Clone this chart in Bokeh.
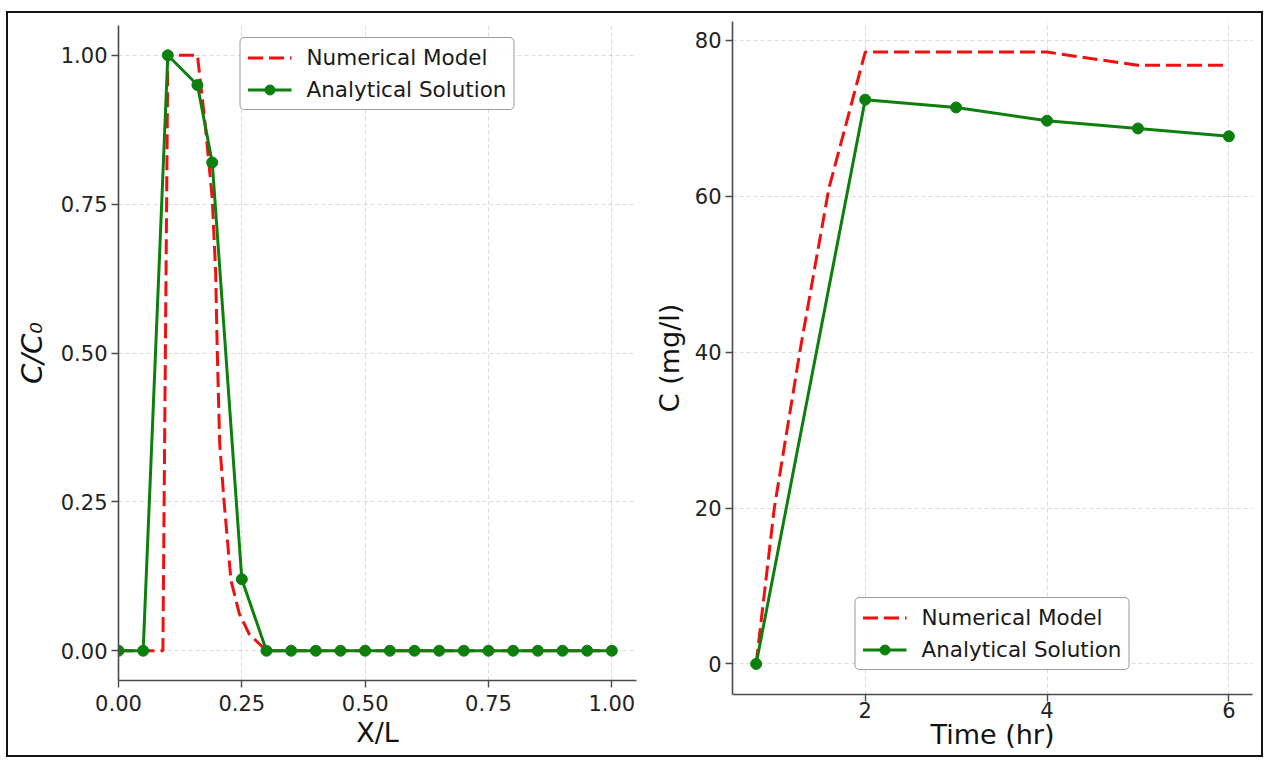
from bokeh.plotting import figure
from bokeh.layouts import row, column
from bokeh.models import Legend, LegendItem, FixedTicker, NumeralTickFormatter, Range1d
from bokeh.embed import file_html
from bokeh.resources import INLINE

# ---- concentration profile along the column (C/C0 vs X/L) ----
x_num = [0.0, 0.09, 0.10, 0.16, 0.175, 0.19, 0.197, 0.20, 0.205, 0.214,
         0.228, 0.245, 0.265, 0.29, 0.30, 1.00]
c_num = [0.0, 0.0, 1.0, 1.0, 0.89, 0.76, 0.635, 0.51, 0.35, 0.25,
         0.118, 0.062, 0.028, 0.008, 0.0, 0.0]

x_an = [0.00, 0.05, 0.10, 0.16, 0.19, 0.25, 0.30, 0.35, 0.40, 0.45, 0.50,
        0.55, 0.60, 0.65, 0.70, 0.75, 0.80, 0.85, 0.90, 0.95, 1.00]
c_an = [0.0, 0.0, 1.0, 0.95, 0.82, 0.12, 0.0, 0.0, 0.0, 0.0, 0.0,
        0.0, 0.0, 0.0, 0.0, 0.0, 0.0, 0.0, 0.0, 0.0, 0.0]

left_xticks = [0.0, 0.25, 0.5, 0.75, 1.0]
left_yticks = [0.0, 0.25, 0.5, 0.75, 1.0]

# ---- breakthrough curve (C vs time) ----
t_num = [0.8, 1.0, 1.28, 1.6, 2.0, 3.0, 4.0, 5.0, 6.0]
conc_num = [0.0, 20.0, 40.0, 61.0, 78.5, 78.5, 78.5, 76.8, 76.8]

t_an = [0.8, 2.0, 3.0, 4.0, 5.0, 6.0]
conc_an = [0.0, 72.4, 71.4, 69.7, 68.7, 67.7]

right_xticks = [2, 4, 6]
right_yticks = [0, 20, 40, 60, 80]

FONT = "DejaVu Sans"
RED = "#f01010"
GREEN = "#0d7f0d"
SPINE = "#4a4a4a"
DASH = "15 6"


def style_axes(p, xticks, yticks, xlabel, ylabel, yfmt=None, xfmt=None,
               ylabel_italic=False, ylabel_size="27px", xl_standoff=2,
               yl_standoff=9, tick_standoff=5):
    p.outline_line_color = None
    p.background_fill_color = "white"
    p.border_fill_color = "white"
    for ax in (p.xaxis[0], p.yaxis[0]):
        ax.axis_line_color = SPINE
        ax.axis_line_width = 1.6
        ax.major_tick_line_color = SPINE
        ax.major_tick_line_width = 1.4
        ax.major_tick_out = 7
        ax.major_tick_in = 0
        ax.minor_tick_line_color = None
        ax.major_label_text_font = FONT
        ax.major_label_text_font_size = "21px"
        ax.major_label_text_color = "#222222"
        ax.axis_label_text_font = FONT
        ax.axis_label_text_font_size = "27px"
        ax.axis_label_text_color = "#111111"
        ax.axis_label_text_font_style = "normal"
    p.xaxis[0].ticker = FixedTicker(ticks=xticks)
    p.yaxis[0].ticker = FixedTicker(ticks=yticks)
    p.xaxis[0].axis_label = xlabel
    p.yaxis[0].axis_label = ylabel
    p.yaxis[0].axis_label_text_font_size = ylabel_size
    p.xaxis[0].major_label_standoff = tick_standoff
    p.yaxis[0].major_label_standoff = 4
    p.xaxis[0].axis_label_standoff = xl_standoff
    p.yaxis[0].axis_label_standoff = yl_standoff
    if ylabel_italic:
        p.yaxis[0].axis_label_text_font_style = "italic"
    if xfmt:
        p.xaxis[0].formatter = NumeralTickFormatter(format=xfmt)
    if yfmt:
        p.yaxis[0].formatter = NumeralTickFormatter(format=yfmt)
    for g in (p.xgrid[0], p.ygrid[0]):
        g.grid_line_color = "#bdbdbd"
        g.grid_line_alpha = 0.55
        g.grid_line_dash = "4 3"
        g.grid_line_width = 1


def add_legend(p, red_r, green_rs, location, margin):
    leg = Legend(
        items=[LegendItem(label="Numerical Model", renderers=[red_r]),
               LegendItem(label="Analytical Solution", renderers=green_rs)],
        location=location,
        margin=margin,
        padding=7,
        spacing=7,
        label_height=25,
        glyph_height=25,
        glyph_width=44,
        label_standoff=15,
        label_text_font=FONT,
        label_text_font_size="21.5px",
        label_text_color="#1a1a1a",
        border_line_color="#3a3a3a",
        border_line_width=1.5,
        background_fill_color="white",
        background_fill_alpha=0.9,
    )
    if "border_radius" in Legend.properties():
        leg.border_radius = 5
    p.add_layout(leg)


# left panel
p1 = figure(width=634, height=742, output_backend="svg", toolbar_location=None,
            x_range=Range1d(0.0, 1.05), y_range=Range1d(-0.05, 1.05),
            min_border_left=110, min_border_right=6, min_border_top=12,
            min_border_bottom=75)
style_axes(p1, left_xticks, left_yticks, "X/L", "C/C\u2080",
           yfmt="0.00", xfmt="0.00", ylabel_italic=True, ylabel_size="29px",
           xl_standoff=3, yl_standoff=9, tick_standoff=7)
r1 = p1.line(x_num, c_num, line_color=RED, line_width=3, line_dash=DASH)
g1 = p1.line(x_an, c_an, line_color=GREEN, line_width=3)
s1 = p1.scatter(x_an, c_an, size=11, fill_color=GREEN, line_color=GREEN)
add_legend(p1, r1, [g1, s1], "top_center", 12)

# right panel
p2 = figure(width=619, height=742, output_backend="svg", toolbar_location=None,
            x_range=Range1d(0.54, 6.26), y_range=Range1d(-3.925, 82.425),
            min_border_left=90, min_border_right=9, min_border_top=8,
            min_border_bottom=61)
style_axes(p2, right_xticks, right_yticks, "Time (hr)", "C (mg/l)",
           xl_standoff=-2, yl_standoff=7, tick_standoff=0)
r2 = p2.line(t_num, conc_num, line_color=RED, line_width=3, line_dash=DASH)
g2 = p2.line(t_an, conc_an, line_color=GREEN, line_width=3)
s2 = p2.scatter(t_an, conc_an, size=11, fill_color=GREEN, line_color=GREEN)
add_legend(p2, r2, [g2, s2], "bottom_center", 24)

# each panel in its own column so the frames keep their own borders
layout = row(column(p1), column(p2))
layout.margin = (11, 0, 0, 6)
layout.styles = {"border": "2px solid #151515"}

open("out.html", "w").write(file_html(layout, INLINE))
